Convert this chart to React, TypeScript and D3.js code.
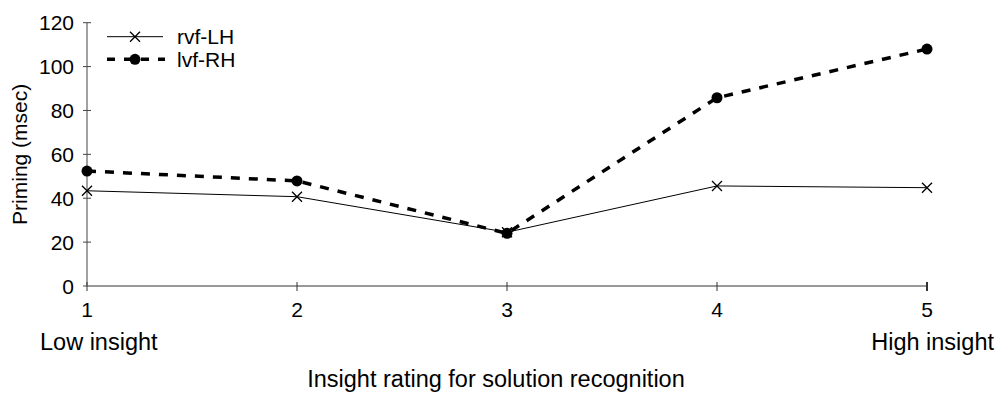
import React from "react";
import * as d3 from "d3";

const ratings = [1, 2, 3, 4, 5];
const rvfLH = [43.4, 40.7, 24.5, 45.6, 44.8];
const lvfRH = [52.4, 47.9, 24.0, 85.8, 108.0];
const yTicks = [0, 20, 40, 60, 80, 100, 120];

const width = 999;
const height = 393;
const font = "Liberation Sans, Arial, Helvetica, sans-serif";

export default function App() {
  const x = d3.scaleLinear().domain([1, 5]).range([87, 927]);
  const y = d3.scaleLinear().domain([0, 120]).range([286, 22.7]);

  const line = d3
    .line<number>()
    .x((_, i) => x(ratings[i]))
    .y((d) => y(d));

  const cross = (cx: number, cy: number, s = 5) =>
    `M${cx - s},${cy - s}L${cx + s},${cy + s}M${cx - s},${cy + s}L${cx + s},${cy - s}`;

  return (
    <svg
      width={width}
      height={height}
      style={{ position: "absolute", left: 0, top: 0, background: "#fff" }}
      fontFamily={font}
    >
      {/* y axis */}
      <line x1={x(1)} x2={x(1)} y1={y(120)} y2={y(0)} stroke="#444" strokeWidth={1} />
      {yTicks.map((t) => (
        <g key={t}>
          <line x1={x(1) - 4} x2={x(1) + 4} y1={y(t)} y2={y(t)} stroke="#444" strokeWidth={1} />
          <text x={x(1) - 13} y={y(t)} dy="0.36em" textAnchor="end" fontSize={21}>
            {t}
          </text>
        </g>
      ))}
      <text
        transform={`translate(27,${y(60)}) rotate(-90)`}
        textAnchor="middle"
        fontSize={21}
      >
        Priming (msec)
      </text>

      {/* x axis */}
      <line x1={x(1)} x2={x(5)} y1={y(0)} y2={y(0)} stroke="#999" strokeWidth={2} />
      {ratings.map((r) => (
        <g key={r}>
          <line
            x1={x(r)}
            x2={x(r)}
            y1={y(0) - 4}
            y2={y(0) + 5}
            stroke="#333"
            strokeWidth={r === 5 ? 2 : 1}
          />
          <text x={x(r)} y={317} textAnchor="middle" fontSize={21}>
            {r}
          </text>
        </g>
      ))}
      <text x={40} y={350} fontSize={23.5}>
        Low insight
      </text>
      <text x={994} y={350} textAnchor="end" fontSize={23.5}>
        High insight
      </text>
      <text x={496} y={387} textAnchor="middle" fontSize={23.5}>
        Insight rating for solution recognition
      </text>

      {/* series */}
      <path d={line(rvfLH) || ""} fill="none" stroke="#000" strokeWidth={1} />
      {rvfLH.map((v, i) => (
        <path key={i} d={cross(x(ratings[i]), y(v))} stroke="#000" strokeWidth={1.3} />
      ))}
      <path
        d={line(lvfRH) || ""}
        fill="none"
        stroke="#000"
        strokeWidth={3.5}
        strokeDasharray="9,9"
      />
      {lvfRH.map((v, i) => (
        <circle key={i} cx={x(ratings[i])} cy={y(v)} r={5.5} fill="#000" />
      ))}

      {/* legend */}
      <line x1={107} x2={163} y1={36.7} y2={36.7} stroke="#000" strokeWidth={1} />
      <path d={cross(135, 36.7)} stroke="#000" strokeWidth={1.3} />
      <text x={177} y={36.7} dy="0.36em" fontSize={21}>
        rvf-LH
      </text>
      <line
        x1={107}
        x2={165}
        y1={59.3}
        y2={59.3}
        stroke="#000"
        strokeWidth={3.5}
        strokeDasharray="8,9"
      />
      <circle cx={135} cy={59.3} r={5.5} fill="#000" />
      <text x={177} y={59.3} dy="0.36em" fontSize={21}>
        lvf-RH
      </text>
    </svg>
  );
}
